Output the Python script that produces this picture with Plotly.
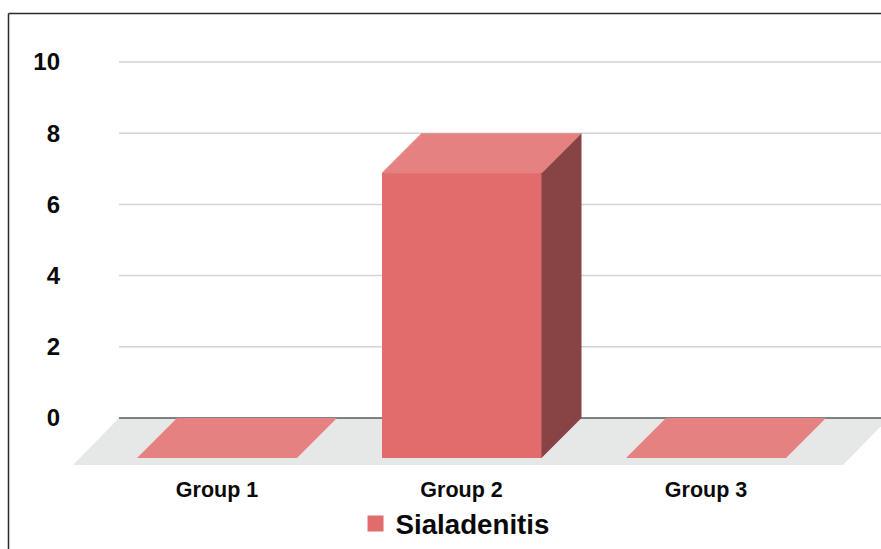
import plotly.graph_objects as go

# Chart data
categories = ["Group 1", "Group 2", "Group 3"]
series_name = "Sialadenitis"
series_values = [0, 8, 0]
y_ticks = [0, 2, 4, 6, 8, 10]

# Figure size and the scale of both axes, in pixels
WIDTH, HEIGHT = 881, 549
PX_PER_CATEGORY = 244.5
PX_PER_UNIT = 35.6
ZERO_PX = 418
PLOT_BOTTOM_PX = 474
FIRST_CATEGORY_PX = 217

x_range = [-FIRST_CATEGORY_PX / PX_PER_CATEGORY, (WIDTH - FIRST_CATEGORY_PX) / PX_PER_CATEGORY]
y_range = [(ZERO_PX - PLOT_BOTTOM_PX) / PX_PER_UNIT, ZERO_PX / PX_PER_UNIT]

# Perspective offsets of the pseudo-3D columns, in axis units
bar_width = 160 / PX_PER_CATEGORY
depth_x = 40 / PX_PER_CATEGORY
depth_y = 40 / PX_PER_UNIT
floor_dx = 46 / PX_PER_CATEGORY
floor_dy = 47 / PX_PER_UNIT
wall_left = (119 - FIRST_CATEGORY_PX) / PX_PER_CATEGORY
wall_right = (889 - FIRST_CATEGORY_PX) / PX_PER_CATEGORY

FRONT = "#E06C6C"
TOP = "#E58181"
SIDE = "#884345"
FLOOR = "#E6E8E7"
GRID = "#D2D3D3"
BASE = "#555B5B"
BORDER = "#2A2A2A"

shapes = [
    # Floor of the scene
    dict(type="path", layer="below", line_width=0, fillcolor=FLOOR,
         path=f"M {wall_left},0 L {wall_right},0 "
              f"L {wall_right - floor_dx},{-floor_dy} "
              f"L {wall_left - floor_dx},{-floor_dy} Z"),
]
# Horizontal guide lines starting at the back wall
for tick in y_ticks:
    shapes.append(dict(type="line", layer="below", xref="x", yref="y",
                       x0=wall_left, x1=x_range[1], y0=tick, y1=tick,
                       line=dict(color=BASE if tick == 0 else GRID, width=1.5)))
# Frame around the chart
shapes.append(dict(type="line", xref="paper", yref="paper",
                   x0=8.5 / WIDTH, x1=8.5 / WIDTH,
                   y0=-75 / PLOT_BOTTOM_PX, y1=(PLOT_BOTTOM_PX - 13.5) / PLOT_BOTTOM_PX,
                   line=dict(color=BORDER, width=1.5)))
shapes.append(dict(type="line", xref="paper", yref="paper",
                   x0=8.5 / WIDTH, x1=1,
                   y0=(PLOT_BOTTOM_PX - 13.5) / PLOT_BOTTOM_PX,
                   y1=(PLOT_BOTTOM_PX - 13.5) / PLOT_BOTTOM_PX,
                   line=dict(color=BORDER, width=1.5)))

fig = go.Figure()

# Front faces of the columns
fig.add_trace(go.Bar(
    x=list(range(len(categories))), y=series_values, base=-depth_y, width=bar_width,
    marker=dict(color=FRONT, line_width=0), showlegend=False, name=series_name,
))

# Top and side faces follow each column's value
for i, value in enumerate(series_values):
    left, right = i - bar_width / 2, i + bar_width / 2
    front_top = value - depth_y
    fig.add_trace(go.Scatter(
        x=[left, right, right + depth_x, left + depth_x, left],
        y=[front_top, front_top, value, value, front_top],
        mode="lines", fill="toself", fillcolor=TOP, line_width=0,
        showlegend=False, hoverinfo="skip",
    ))
    if value > 0:
        fig.add_trace(go.Scatter(
            x=[right, right + depth_x, right + depth_x, right, right],
            y=[-depth_y, 0, value, front_top, -depth_y],
            mode="lines", fill="toself", fillcolor=SIDE, line_width=0,
            showlegend=False, hoverinfo="skip",
        ))

# Legend entry
fig.add_trace(go.Scatter(
    x=[None], y=[None], mode="markers", name=series_name,
    marker=dict(symbol="square", color=FRONT, size=16),
))

fig.update_layout(
    width=WIDTH, height=HEIGHT,
    margin=dict(l=0, r=0, t=0, b=HEIGHT - PLOT_BOTTOM_PX, pad=0),
    paper_bgcolor="white", plot_bgcolor="rgba(0,0,0,0)",
    font=dict(family="Liberation Sans, Arial, sans-serif", color="#0A0A0A"),
    shapes=shapes,
    bargap=0,
    xaxis=dict(
        range=x_range, tickmode="array", tickvals=list(range(len(categories))),
        ticktext=categories, showgrid=False, zeroline=False, showline=False,
        ticks="", tickfont=dict(size=21.5, weight=700), ticklabelstandoff=0,
    ),
    yaxis=dict(
        range=y_range, tickmode="array", tickvals=y_ticks, showgrid=False,
        zeroline=False, showline=False, ticks="", anchor="free",
        position=60 / WIDTH, tickfont=dict(size=24, weight=700),
    ),
    legend=dict(
        orientation="h", x=0.5165, xanchor="center", y=-50 / PLOT_BOTTOM_PX,
        yanchor="middle", font=dict(size=27.7, weight=700), bgcolor="rgba(0,0,0,0)",
        itemsizing="trace",
    ),
)

fig.write_html("out.html")
